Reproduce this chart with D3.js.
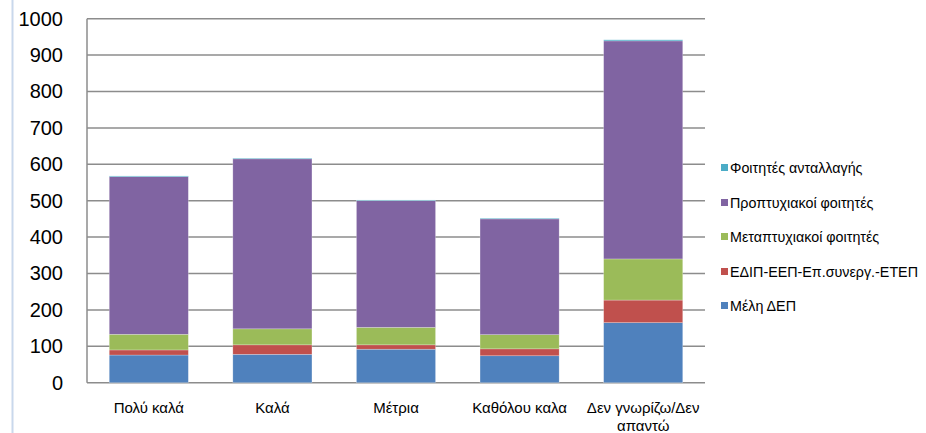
<!DOCTYPE html>
<html lang="el">
  <head>
    <meta charset="utf-8">
    <title>Αξιολόγηση</title>
    <script src="https://cdn.jsdelivr.net/npm/d3@7"></script>
    <style>
      body { margin: 0; background: #fff; }
      svg { font-family: "Liberation Sans", Arial, sans-serif; }
      .grid line { stroke: #8c8c8c; stroke-width: 1.5; }
      .axis path, .axis line { stroke: none; }
      .axis text { fill: #000; }
    </style>
  </head>
  <body>
    <script>
      // data
      var categories = ["Πολύ καλά", "Καλά", "Μέτρια", "Καθόλου καλα", "Δεν γνωρίζω/Δεν απαντώ"];
      var series = ["Μέλη ΔΕΠ", "ΕΔΙΠ-ΕΕΠ-Επ.συνεργ.-ΕΤΕΠ", "Μεταπτυχιακοί φοιτητές", "Προπτυχιακοί φοιτητές", "Φοιτητές ανταλλαγής"];
      var melhDep      = [76, 78, 92, 74, 165];
      var edip         = [14, 26, 12, 19, 62];
      var metaptyxiakoi = [43, 44, 48, 39, 113];
      var proptyxiakoi = [433, 467, 348, 318, 599];
      var antallagis   = [2, 2, 2, 2, 3];
      var colors = ["#4f81bd", "#c0504d", "#9bbb59", "#8064a2", "#4bacc6"];
      var yTicks = [0, 100, 200, 300, 400, 500, 600, 700, 800, 900, 1000];

      var width = 926, height = 433;
      var mLeft = 87, mRight = 705, mTop = 18.7, mBottom = 382.7;

      var values = [melhDep, edip, metaptyxiakoi, proptyxiakoi, antallagis];
      var table = categories.map(function(c, i) {
        var row = {cat: c};
        series.forEach(function(s, j) { row[s] = values[j][i]; });
        return row;
      });

      var svg = d3.select("body").append("svg")
        .attr("width", width)
        .attr("height", height);

      // faint line on the left edge
      svg.append("line")
        .attr("x1", 12.5).attr("x2", 12.5)
        .attr("y1", 0).attr("y2", height)
        .attr("stroke", "#c9d8ec")
        .attr("stroke-width", 2);

      var x = d3.scaleBand()
        .domain(categories)
        .range([mLeft, mRight])
        .paddingInner(0.36)
        .paddingOuter(0.18);

      var y = d3.scaleLinear()
        .domain([0, 1000])
        .range([mBottom, mTop]);

      svg.append("g")
        .attr("class", "grid")
        .selectAll("line")
        .data(yTicks)
        .enter().append("line")
        .attr("x1", mLeft).attr("x2", mRight)
        .attr("y1", function(d) { return y(d); })
        .attr("y2", function(d) { return y(d); });

      svg.append("line")
        .attr("x1", mLeft).attr("x2", mLeft)
        .attr("y1", mTop).attr("y2", mBottom)
        .attr("stroke", "#8c8c8c")
        .attr("stroke-width", 1.5);

      var stack = d3.stack().keys(series)(table);

      svg.append("g")
        .selectAll("g")
        .data(stack)
        .enter().append("g")
        .attr("fill", function(d, i) { return colors[i]; })
        .selectAll("rect")
        .data(function(d) { return d; })
        .enter().append("rect")
        .attr("x", function(d) { return x(d.data.cat); })
        .attr("width", x.bandwidth())
        .attr("y", function(d) { return y(d[1]); })
        .attr("height", function(d) { return y(d[0]) - y(d[1]); })
        .attr("stroke", "#fff")
        .attr("stroke-opacity", 0.4)
        .attr("stroke-width", 0.6);

      // y axis labels
      var yAxis = svg.append("g")
        .attr("class", "axis")
        .attr("transform", "translate(" + (mLeft - 24) + ",0)")
        .call(d3.axisLeft(y).tickValues(yTicks).tickFormat(d3.format("d")).tickSize(0).tickPadding(0));
      yAxis.select(".domain").remove();
      yAxis.selectAll("text").style("font-size", "20px");

      // x axis labels
      var xAxis = svg.append("g")
        .attr("class", "axis")
        .attr("transform", "translate(0," + mBottom + ")")
        .call(d3.axisBottom(x).tickSize(0).tickPadding(20));
      xAxis.select(".domain").remove();
      xAxis.selectAll("text")
        .style("font-size", "15px")
        .each(function(d) {
          if (d.indexOf("/") > 0) {
            var t = d3.select(this).text(null);
            t.append("tspan").attr("x", 0).attr("dy", "0.71em").text("Δεν γνωρίζω/Δεν");
            t.append("tspan").attr("x", 0).attr("dy", "1.2em").text("απαντώ");
          }
        });

      // legend, top entry is the last series
      var legendY = [168, 203, 237, 272, 306];
      var legend = svg.append("g")
        .selectAll("g")
        .data(series.slice().reverse())
        .enter().append("g")
        .attr("transform", function(d, i) { return "translate(721," + legendY[i] + ")"; });

      legend.append("rect")
        .attr("x", 0).attr("y", -4)
        .attr("width", 7).attr("height", 7)
        .attr("fill", function(d) { return colors[series.indexOf(d)]; });

      legend.append("text")
        .attr("x", 9)
        .attr("dy", "0.35em")
        .style("font-size", "14.3px")
        .text(function(d) { return d; });
    </script>
  </body>
</html>
